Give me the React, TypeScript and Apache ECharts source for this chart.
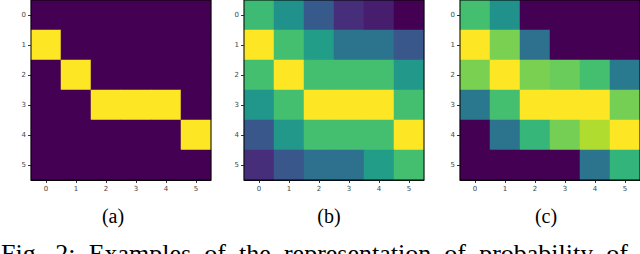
import React, { useEffect, useRef } from "react";
import * as echarts from "echarts";

const xCategories = ["0", "1", "2", "3", "4", "5"];
const yCategories = ["0", "1", "2", "3", "4", "5"];

// rows (y = 0..5), columns (x = 0..5); values in [0, 1]
const panelA: number[][] = [
  [0, 0, 0, 0, 0, 0],
  [1, 0, 0, 0, 0, 0],
  [0, 1, 0, 0, 0, 0],
  [0, 0, 1, 1, 1, 0],
  [0, 0, 0, 0, 0, 1],
  [0, 0, 0, 0, 0, 0],
];

const panelB: number[][] = [
  [0.68, 0.5, 0.28, 0.13, 0.08, 0],
  [1, 0.7, 0.55, 0.38, 0.38, 0.27],
  [0.7, 1, 0.7, 0.7, 0.7, 0.53],
  [0.52, 0.7, 1, 1, 1, 0.7],
  [0.27, 0.53, 0.7, 0.7, 0.7, 1],
  [0.13, 0.27, 0.37, 0.37, 0.55, 0.7],
];

const panelC: number[][] = [
  [0.7, 0.5, 0, 0, 0, 0],
  [1, 0.8, 0.37, 0, 0, 0],
  [0.8, 1, 0.8, 0.77, 0.7, 0.41],
  [0.4, 0.7, 1, 1, 1, 0.79],
  [0, 0.38, 0.66, 0.79, 0.88, 1],
  [0, 0, 0, 0, 0.38, 0.65],
];

const panelLabels = ["(a)", "(b)", "(c)"];
const captionWords = ["Fig.", "2:", "Examples", "of", "the", "representation", "of", "probability", "of"];

const viridis = [
  "#440154", "#482475", "#414487", "#355f8d", "#2a788e",
  "#21918c", "#22a884", "#44bf70", "#7ad151", "#bddf26", "#fde725",
];

function toData(m: number[][]) {
  const out: [number, number, number][] = [];
  m.forEach((row, y) => row.forEach((v, x) => out.push([x, y, v])));
  return out;
}

const grids = [
  { left: 31, top: 0, width: 180, height: 180 },
  { left: 244, top: 0, width: 180, height: 180 },
  { left: 460, top: 0, width: 180, height: 180 },
];
const labelX = [113, 329, 546];

const CAPTION_SIZE = 26;
const CAPTION_FONT = CAPTION_SIZE + "px 'Liberation Serif'";

function captionLayout(startX: number, endX: number) {
  const canvas = document.createElement("canvas");
  const ctx = canvas.getContext("2d");
  const widths = captionWords.map((w) => {
    if (!ctx) return w.length * 11;
    ctx.font = CAPTION_FONT;
    return ctx.measureText(w).width;
  });
  const total = widths.reduce((a, b) => a + b, 0);
  const gap = (endX - startX - total) / (captionWords.length - 1);
  const xs: number[] = [];
  let x = startX;
  widths.forEach((w) => {
    xs.push(x);
    x += w + gap;
  });
  return xs;
}

export default function App() {
  const ref = useRef<HTMLDivElement>(null);
  useEffect(() => {
    if (!ref.current) return;
    const chart = echarts.init(ref.current, undefined, { renderer: "svg" });
    const panels = [panelA, panelB, panelC];
    const axisLabel = {
      fontSize: 7,
      color: "#444",
      fontFamily: "DejaVu Sans",
      margin: 5,
    };
    const xs = captionLayout(1, 628);
    chart.setOption({
      animation: false,
      backgroundColor: "#ffffff",
      grid: grids.map((g) => ({
        ...g,
        show: true,
        borderColor: "#000",
        borderWidth: 1,
        backgroundColor: "transparent",
        z: 5,
      })),
      xAxis: grids.map((_, i) => ({
        type: "category",
        gridIndex: i,
        data: xCategories,
        position: "bottom",
        axisLine: { show: true, lineStyle: { color: "#000", width: 1 } },
        axisTick: { show: true, alignWithLabel: true, length: 3, lineStyle: { color: "#333" } },
        axisLabel,
        splitLine: { show: false },
      })),
      yAxis: grids.map((_, i) => ({
        type: "category",
        gridIndex: i,
        data: yCategories,
        inverse: true,
        axisLine: { show: true, lineStyle: { color: "#000", width: 1 } },
        axisTick: { show: true, alignWithLabel: true, length: 3, lineStyle: { color: "#333" } },
        axisLabel,
        splitLine: { show: false },
      })),
      visualMap: {
        type: "continuous",
        min: 0,
        max: 1,
        show: false,
        seriesIndex: [0, 1, 2],
        inRange: { color: viridis },
      },
      series: panels.map((p, i) => ({
        type: "heatmap",
        xAxisIndex: i,
        yAxisIndex: i,
        data: toData(p),
        itemStyle: { borderWidth: 0 },
        emphasis: { disabled: true },
        z: 1,
      })),
      graphic: [
        ...panelLabels.map((t, i) => ({
          type: "text",
          x: labelX[i],
          y: 206,
          style: {
            text: t,
            fontFamily: "Liberation Serif",
            fontSize: 20,
            fill: "#000",
            textAlign: "center",
            textVerticalAlign: "top",
          },
        })),
        ...captionWords.map((w, i) => ({
          type: "text",
          x: xs[i],
          y: 240,
          style: {
            text: w,
            fontFamily: "Liberation Serif",
            fontSize: CAPTION_SIZE,
            fill: "#000",
            textAlign: "left",
            textVerticalAlign: "top",
          },
        })),
      ],
    });
    return () => chart.dispose();
  }, []);
  return (
    <div
      ref={ref}
      style={{ position: "fixed", left: 0, top: 0, width: 640, height: 254 }}
    />
  );
}
